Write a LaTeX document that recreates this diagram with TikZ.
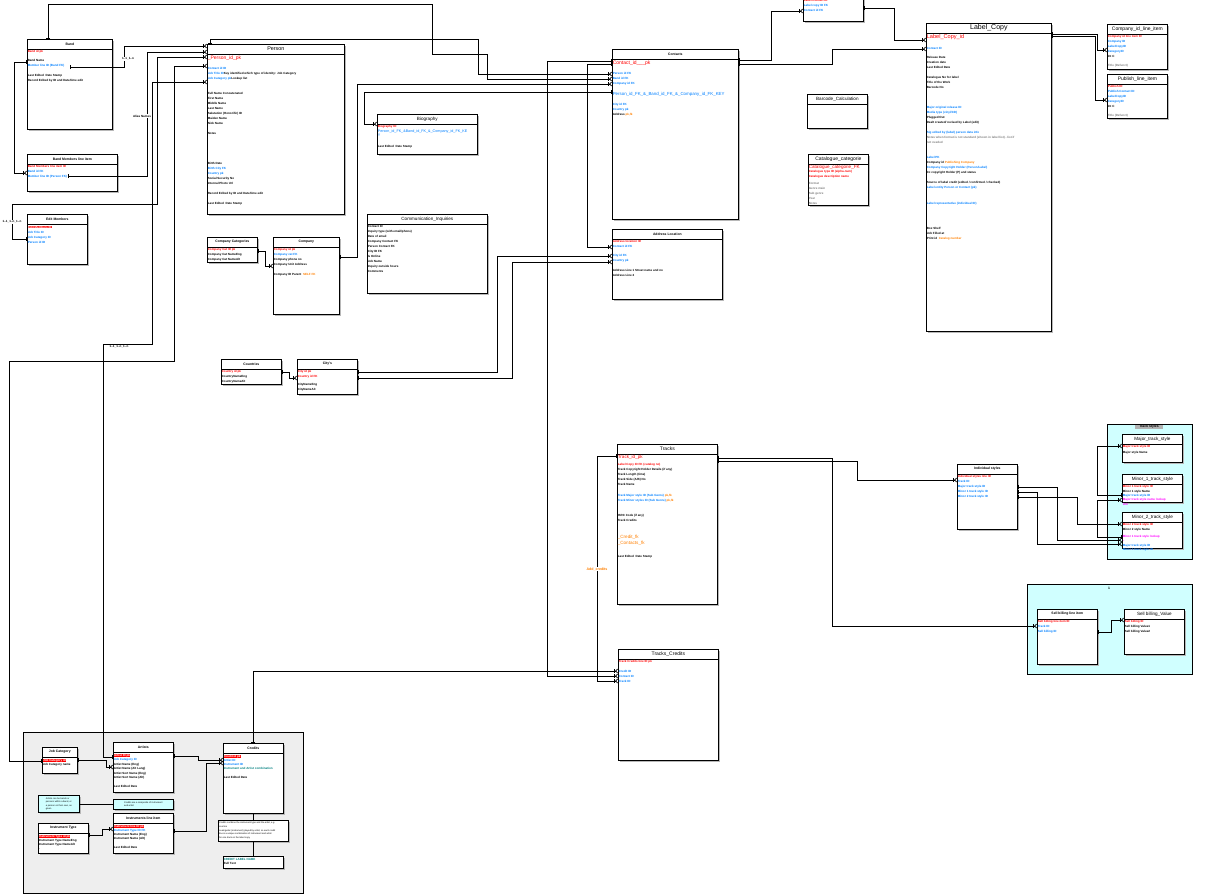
\documentclass[tikz,border=0pt]{standalone}
\usepackage{fontspec}
\setmainfont{Liberation Sans}
\usetikzlibrary{arrows.meta,shadows}

\definecolor{pkred}{RGB}{255,0,0}
\definecolor{fkblue}{RGB}{0,128,255}
\definecolor{ornge}{RGB}{255,128,0}
\definecolor{gryt}{RGB}{128,128,128}
\definecolor{mgnt}{RGB}{255,0,255}
\definecolor{teelt}{RGB}{0,128,128}
\definecolor{grpcyan}{RGB}{208,255,255}
\definecolor{grpgrey}{RGB}{238,238,238}

\newcommand{\pkf}[1]{\textcolor{pkred}{#1}}
\newcommand{\fkf}[1]{\textcolor{fkblue}{#1}}
\newcommand{\ogf}[1]{\textcolor{ornge}{#1}}
\newcommand{\grf}[1]{\textcolor{gryt}{#1}}
\newcommand{\mgf}[1]{\textcolor{mgnt}{#1}}
\newcommand{\tlf}[1]{\textcolor{teelt}{#1}}
\newcommand{\pkbar}[1]{{\setlength{\fboxsep}{0.3pt}\colorbox{pkred}{\textcolor{white}{#1}}}}
\newcommand{\bigrow}{\fontsize{5}{5}\mdseries\selectfont}
\newcommand{\tsmall}{\fontsize{3.4}{4}\bfseries\selectfont}

% one table: name, x, y, width, height, title, rows
\newcommand{\ertable}[7]{%
	\node[tbl, minimum width=#4pt, minimum height=#5pt] (#1)at(#2,#3) {};
	\draw[line width=0.7pt] ([yshift=-10pt]#1.north west) -- ([yshift=-10pt]#1.north east);
	\node[ttl] (#1-title)at([yshift=-5pt]#1.north) {#6};
	\node[rows] (#1-rows)at([shift={(0.6pt,-11.4pt)}]#1.north west) {#7};
}

\begin{document}
\begin{tikzpicture}[x=1pt, y=-1pt,
		tbl/.style={draw, line width=0.7pt, fill=white, anchor=north west, inner sep=0pt,
			drop shadow={shadow xshift=1.6pt, shadow yshift=-1.6pt, fill=black!28, opacity=1}},
		ttl/.style={font=\fontsize{4.6}{5}\selectfont, inner sep=0pt},
		rows/.style={anchor=north west, inner sep=0pt, align=left, font=\fontsize{3}{5}\bfseries\selectfont},
		rel/.style={line width=0.7pt, {Bar[width=4pt]}-{Bar[width=4pt]Straight Barb[reversed,length=2pt,width=4pt]}},
		plain/.style={line width=0.7pt},
		lbl/.style={font=\fontsize{3}{4}\bfseries\selectfont, fill=white, inner sep=0.5pt},
		grp/.style={draw, line width=0.7pt, anchor=north west, inner sep=0pt}]
	\useasboundingbox (0,0) rectangle (1220,894);

	% groups
	\node[grp, fill=grpgrey, minimum width=280pt, minimum height=161pt] (grpcred)at(23,732) {};
	\node[grp, fill=grpcyan, minimum width=85pt, minimum height=135pt] (grpstyle)at(1107,424) {};
	\node[grp, fill=grpcyan, minimum width=165pt, minimum height=90pt] (grpsell)at(1027,584) {};
	\node[fill=black!30, font=\tsmall, inner sep=0.5pt, anchor=north, minimum width=28pt] (grpstyle-lbl)at(1149,424.5) {Track styles};
	\node[font=\tsmall, inner sep=0pt] (grpsell-lbl)at(1109,588) {1};

	% tables
	\ertable{band}{27}{39}{85}{90}{\tsmall Band}{\pkf{Band id pk}\\[4pt] Band Name\\ \fkf{Member line ID (Band FK)}\\[5pt] Last Edited \ Date Stamp\\ Record Edited by ID and Date/time edit}
	\ertable{bandml}{27}{154}{90}{37}{\tsmall Band Members line item}{\pkf{Band Members line item ID}\\ \fkf{Band id FK}\\ \fkf{Member line ID (Person FK)}}
	\ertable{editmem}{27}{214}{60}{50}{\tsmall Edit Members}{\pkbar{Edit Members ID}\\ \fkf{Job Title ID}\\ \fkf{Job Category ID}\\ \fkf{Person id ID}}
	\ertable{person}{207}{44}{137}{170}{\fontsize{5.4}{6}\selectfont Person}{{\bigrow\pkf{\_Person\_id\_pk}}\\[5pt] \fkf{Contact id ID}\\ \fkf{Job Title ID}Key identified which type of identity: Job Category\\ \fkf{Job Category pk}Lookup list\\[10pt] Full Name Concatenated\\ First Name\\ Middle Name\\ Last Name\\ Salutation (Honorific) ID\\ Maiden Name\\ Nick Name\\[5pt] Notes\\[25pt] Birth Date\\ \fkf{Birth City FK}\\ \fkf{Country pk}\\ Social Security No\\ Internal Photo Url\\[5pt] Record Edited by ID and Date/time edit\\[5pt] Last Edited \ Date Stamp}
	\ertable{compcat}{207}{237}{50}{25}{\tsmall Company Categories}{\pkf{Company Cat ID pk}\\ Company Cat NameEng\\ Company Cat NameAlt}
	\ertable{company}{273}{237}{66}{77}{\tsmall Company}{\pkf{Company id pk}\\ \fkf{Company cat FK}\\ Company phone no\\ Company Unit Address\\[5pt] Company ID Parent \ \ogf{SELF FK}}
	\ertable{consum}{367}{214}{120}{79}{\fontsize{4.6}{5}\selectfont Communication\_Inquiries}{Contact ID\\ Inquiry type (with email/phone)\\ Date of email\\ Company Contact FK\\ Person Contact FK\\ City ID FK\\ Is Online\\ Job Name\\ Inquiry outside hours\\ Comments}
	\ertable{countries}{221}{359}{60}{25}{\tsmall Countries}{\pkf{Country id pk}\\ CountryNameEng\\ CountryNameAlt}
	\ertable{city}{297}{359}{60}{35}{\tsmall City's}{\pkf{City id pk}\\ \pkf{Country id FK}\\[3pt] CityNameEng\\ CityNameAlt}
	\ertable{bio}{377}{114}{100}{40}{Biography}{\pkf{Biography ID}\\ {\fontsize{3.7}{5}\mdseries\selectfont\fkf{Person\_id\_FK\_\&Band\_id\_FK\_\&\_Company\_id\_FK\_KE}}\\[-1pt] {\fontsize{3.7}{5}\mdseries\selectfont\fkf{Y}}\\[6pt] Last Edited \ Date Stamp}
	\ertable{contacts}{612}{49}{126}{170}{\tsmall Contacts}{{\bigrow\pkf{Contact\_id\_\_\_pk}}\\[5.5pt] \fkf{Person id FK}\\ \fkf{Band id FK}\\ \fkf{Company id FK}\\[6pt] {\fontsize{4.4}{5}\mdseries\selectfont\fkf{Person\_id\_FK\_\&\_Band\_id\_FK\_\&\_Company\_id\_FK\_KEY}}\\[4.5pt] \fkf{City id FK}\\ \fkf{Country pk}\\ Address \ogf{pk,fk}}
	\ertable{address}{612}{229}{110}{70}{\tsmall Address Location}{\pkf{Address location ID}\\ \fkf{Contact id FK}\\[4pt] \fkf{City id FK}\\ \fkf{Country pk}\\[5pt] Address Line 1 Street name and no\\ Address Line 2}
	\ertable{barcode}{807}{94}{60}{34}{Barcode\_Calculation}{}
	\ertable{catcat}{808}{154}{60}{51}{\fontsize{5}{6}\selectfont Catalogue\_categorie}{{\fontsize{4.6}{5}\mdseries\selectfont\pkf{Catalogue\_categorie\_FK}}\\[-1.5pt] \pkf{Catalogue type ID (alpha-num)}\\ \pkf{Catalogue description name}\\[2pt] \grf{Format}\\ \grf{Genre main}\\ \grf{Sub genre}\\ \grf{Year}\\ \grf{Notes}}
	\ertable{label}{926}{23}{125}{308}{\fontsize{7}{8}\selectfont Label\_Copy}{{\fontsize{5.6}{6}\mdseries\selectfont\pkf{Label\_Copy\_id}}\\[6pt] \fkf{Contact ID}\\[4pt] Release Date\\ Creation date\\ Last Edited Date\\[5pt] Catalogue No for label\\ Title of the Work\\ Barcode No\\[15pt] \fkf{Major original release ID}\\ \fkf{Media type (vinyl/CD)}\\ Plugged Out\\ Dealt created/ revised by Label (edit)\\[5pt] \fkf{Sig edited by (label) person data info}\\ \grf{Notes when format is not standard (shown in label list) - list if}\\ \grf{not needed}\\[10pt] \fkf{Label PK}\\ Company id \ogf{Publishing Company}\\ \fkf{Company Copyright Holder (Person/Label)}\\ Cc copyright Holder (P) and status\\[5pt] Source of label credit (edited / confirmed / checked)\\ \fkf{Label entity Person or Contact (pk)}\\[11pt] \fkf{Label representative (individual ID)}\\[20pt] Box Shelf\\ Job Filled at\\ Print id \ \ogf{Catalog number}}
	\ertable{compline}{1107}{24}{60}{45}{\fontsize{5}{6}\selectfont Company\_id\_line\_item}{\pkf{Company id line item ID}\\ \fkf{Company ID}\\ \fkf{LabelCopyID}\\ \fkf{CategoryID}\\ Int C\\[4pt] \grf{Title (Defunct)}}
	\ertable{publine}{1107}{74}{60}{44}{\fontsize{5}{6}\selectfont Publish\_line\_item}{\pkf{Publish ID}\\ \fkf{Publish Contact ID}\\ \fkf{LabelCopyID}\\ \fkf{CategoryID}\\ Int C\\[4pt] \grf{Title (Defunct)}}
	\ertable{tracks}{617}{444}{100}{160}{\fontsize{5}{6}\selectfont Tracks}{{\fontsize{4.6}{5}\mdseries\selectfont\pkf{Track\_id\_pk}}\\[2pt] \pkf{Label Copy ID FK (catalog no)}\\ Track Copyright Holder Details (if any)\\ Track Length (time)\\ Track Side (A/B) No\\ Track Name\\[6pt] \fkf{Track Major style ID (Sub Genre)} \ogf{pk,fk}\\ \fkf{Track Minor styles ID (Sub Genre)} \ogf{pk,fk}\\[10pt] ISRC Code (if any)\\ Track Credits\\[12pt] {\fontsize{4.6}{5}\mdseries\selectfont\ogf{\_Credit\_fk}}\\[1pt] {\fontsize{4.6}{5}\mdseries\selectfont\ogf{\_Contacts\_fk}}\\[8pt] Last Edited \ Date Stamp}
	\ertable{trcred}{618}{649}{100}{111}{\fontsize{5}{6}\selectfont Tracks\_Credits}{\pkf{Track Credits line ID pk}\\[5pt] \fkf{Credit ID}\\ \fkf{Contact ID}\\ \fkf{Track ID}}
	\ertable{styles}{957}{464}{60}{65}{\tsmall Individual styles}{\pkf{Individual styles line ID}\\ \fkf{Track ID}\\ \fkf{Major track style ID}\\ \fkf{Minor 1 track style ID}\\ \fkf{Minor 2 track style ID}}
	\ertable{major}{1122}{434}{60}{28}{Major\_track\_style}{\pkf{Major track style ID}\\[1pt] Major style Name}
	\ertable{minor1}{1122}{474}{60}{28}{Minor\_1\_track\_style}{\pkf{Minor 1 track style ID}\\[-0.6pt] Minor 1 style Name\\[-0.6pt] \fkf{Major track style ID}\\[-0.6pt] \mgf{Major track style name lookup}\\[-0.6pt] \mgf{link}}
	\ertable{minor2}{1122}{512}{60}{36}{Minor\_2\_track\_style}{\pkf{Minor 2 track style ID}\\ Minor 2 style Name\\[2pt] \mgf{Minor 1 track style lookup}\\[-1.5pt] \mgf{..}\\[0pt] \fkf{Major track style ID}\\[-1pt] \fkf{Minor 1 track style ID}}
	\ertable{sellitem}{1037}{609}{60}{55}{\tsmall Sell billing line item}{\pkf{Sell billing line item ID}\\ \fkf{Track ID}\\ \fkf{Sell billing ID}}
	\ertable{sellval}{1124}{609}{60}{45}{\fontsize{4.6}{5}\selectfont Sell billing\_Value}{\pkf{Sell billing ID}\\ Sell billing Value1\\ Sell billing Value2}
	% credits group
	\ertable{catg}{42}{747}{35}{26}{\tsmall Job Category}{\pkbar{Job Category id}\\[-1pt] Job Category name}
	\ertable{artists}{113}{742}{60}{50}{\tsmall Artists}{\pkbar{Artist ID pk}\\[-0.5pt] \fkf{Job Category ID}\\[-0.5pt] Artist Name (Eng)\\[-0.5pt] Artist Name (Alt Lang)\\[-0.5pt] Artist Sort Name (Eng)\\[-0.5pt] Artist Sort Name (Alt)\\[4pt] Last Edited Date}
	\ertable{credits}{223}{743}{60}{70}{\tsmall Credits}{\pkbar{Credit id pk}\\[-1pt] \fkf{Artist ID}\\[-1pt] \fkf{Instrument ID}\\[-1pt] \tlf{Instrument and Artist combination}\\[4pt] Last Edited Date}
	\ertable{instr}{38}{823}{50}{30}{\tsmall Instrument Type}{\pkbar{Instrument Type id pk}\\[-0.5pt] Instrument Type NameEng\\[-1pt] Instrument Type NameAlt\\[-1pt] .}
	\ertable{instline}{113}{813}{60}{40}{\tsmall Instruments line item}{\pkbar{Instrument line ID pk}\\[-0.5pt] \fkf{Instrument Type ID FK}\\[-1pt] Instrument Name (Eng)\\[-1pt] Instrument Name (Alt)\\[4pt] Last Edited Date}
	\node[tbl, fill=grpcyan, minimum width=41pt, minimum height=17pt] (note1)at(38,795) {};
	\node[rows, font=\fontsize{2.3}{3.3}\selectfont, anchor=center] (note1-text)at(note1.center) {Artists can be bands or\\ persons within a band, or\\ a person on their own, as\\ given};
	\node[tbl, fill=grpcyan, minimum width=60pt, minimum height=10pt] (note2)at(113,799) {};
	\node[rows, font=\fontsize{2.3}{3.3}\selectfont, anchor=center] (note2-text)at(note2.center) {Credits are a composite of instrument\\ and artist};
	\node[tbl, minimum width=70pt, minimum height=21pt] (note3)at(218,820) {};
	\node[rows, font=\fontsize{2.3}{3.3}\selectfont, anchor=north west] (note3-text)at([shift={(1pt,-2pt)}]note3.north west) {Credits combine the instrument type and the artist, e.g.\\ one line\\[1pt] Lead guitar (instrument) played by artist, so each credit\\ line is a unique combination of instrument and artist\\ for one track on the label copy};
	\node[tbl, minimum width=60pt, minimum height=12pt] (box37)at(223,856) {};
	\node[rows, anchor=north west] (box37-rows)at([shift={(0.6pt,-2pt)}]box37.north west) {\tlf{CREDIT LABEL NAME}\\[-1pt] Full Text};
	% box cut by the top edge
	\node[tbl, minimum width=60pt, minimum height=51pt] (topbox)at(803,-30) {};
	\node[rows] (topbox-rows)at([shift={(0.6pt,-29pt)}]topbox.north west) {\pkf{Label Contact ID}\\ \fkf{Label copy ID FK}\\ \fkf{Contact id FK}};

	% connectors
	\draw[rel] ([xshift=21pt]band.north west) |- (432,4) |- (487,54) |- ([yshift=-30pt]contacts.north west);
	\draw[rel] ([xshift=3pt]person.north west) |- (478,39) |- ([yshift=-25pt]contacts.north west);
	\draw[rel] ([shift={(43pt,-28pt)}]band.north west) -| (124,46) -- ([yshift=-2pt]person.north west);
	\draw[rel] ([shift={(41pt,-22pt)}]bandml.north west) -| (147,52) -- ([yshift=-8pt]person.north west);
	\draw[rel] ([yshift=-23pt]band.north west) -| (14,173) -- ([yshift=-19pt]bandml.north west);
	\draw[rel] ([yshift=-25pt]editmem.north west) -| (12,204) -| (157,57) -- ([yshift=-13pt]person.north west);
	\draw[rel] ([yshift=-14pt]catg.north west) -| (9,361) -| (174,66) -- ([yshift=-22pt]person.north west);
	\draw[rel] ([yshift=-15pt]artists.north west) -| (103,344) -| (152,82) -- ([yshift=-38pt]person.north west);
	\draw[rel] ([yshift=-13pt]catg.north east) -| (106,767) -- ([yshift=-25pt]artists.north west);
	\draw[rel] ([yshift=-12pt]contacts.north west) -| (547,676) -- ([yshift=-27pt]trcred.north west);
	\draw[rel] ([yshift=-15pt]contacts.north west) -| (587,247) -- ([yshift=-18pt]address.north west);
	\draw[rel] ([yshift=-12pt]tracks.north west) -| (597,681) -- ([yshift=-32pt]trcred.north west);
	\draw[rel] ([xshift=30pt]credits.north west) |- ([yshift=-22pt]trcred.north west);
	\draw[rel] ([yshift=-20pt]company.north east) -| (357,84) -- ([yshift=-35pt]contacts.north west);
	\draw[rel] ([yshift=-43pt]contacts.north west) -| (364,124) -- ([yshift=-10pt]bio.north west);
	\draw[rel] ([yshift=-13pt]city.north east) -| (497,256) -- ([yshift=-27pt]address.north west);
	\draw[rel] ([yshift=-19pt]city.north east) -| (512,262) -- ([yshift=-33pt]address.north west);
	\draw[rel] ([yshift=-14pt]compcat.north east) -| (265,266) -- ([yshift=-29pt]company.north west);
	\draw[rel] ([yshift=-13pt]countries.north east) -| (289,378) -- ([yshift=-19pt]city.north west);
	\draw[rel] ([yshift=-11pt]contacts.north east) -| (771,11) -- ([yshift=-41pt]topbox.north west);
	\draw[rel] ([yshift=-15pt]contacts.north east) -| (832,49) -- ([yshift=-26pt]label.north west);
	\draw[rel] ([yshift=-38pt]topbox.north east) -| (894,40) -- ([yshift=-17pt]label.north west);
	\draw[rel] ([yshift=-11pt]label.north east) -| (1097,50) -- ([yshift=-26pt]compline.north west);
	\draw[rel] ([yshift=-13pt]label.north east) -| (1095,100) -- ([yshift=-26pt]publine.north west);
	\draw[rel] ([yshift=-14pt]tracks.north east) -| (832,626) -- ([yshift=-17pt]sellitem.north west);
	\draw[rel] ([yshift=-17pt]tracks.north east) -| (857,480) -- ([yshift=-16pt]styles.north west);
	\draw[rel] ([yshift=-23pt]styles.north east) -| (1057,540) -- ([yshift=-28pt]minor2.north west);
	\draw[rel] ([yshift=-28pt]styles.north east) -| (1037,544) -- ([yshift=-32pt]minor2.north west);
	\draw[rel] ([yshift=-33pt]styles.north east) -| (1077,524) -- ([yshift=-12pt]minor2.north west);
	\draw[rel] ([yshift=-21pt]minor1.north west) -| (1097,446) -- ([yshift=-12pt]major.north west);
	\draw[rel] ([yshift=-25pt]minor2.north west) -| (1097,500) -- ([yshift=-26pt]minor1.north west);
	\draw[rel] ([yshift=-23pt]sellitem.north east) -| (1111,620) -- ([yshift=-11pt]sellval.north west);
	\draw[rel] ([yshift=-14pt]artists.north east) -| (198,760) -- ([yshift=-17pt]credits.north west);
	\draw[rel] ([yshift=-18pt]instline.north east) -| (206,763) -- ([yshift=-20pt]credits.north west);
	\draw[rel] ([yshift=-12pt]instr.north east) -| (102,829) -- ([yshift=-16pt]instline.north west);
	\draw[plain] (note1.east) -- (note1.east -| note2.west);
	\draw[plain] ([xshift=30pt]credits.south west) -- ([xshift=35pt]note3.north west);
	\draw[plain] ([xshift=35pt]note3.south west) -- ([xshift=30pt]box37.north west);

	% connector labels
	\node[lbl] (lab-band)at(128,59) {1..1\_1..n};
	\node[lbl] (lab-alias)at(142,116) {Alias Names};
	\node[lbl] (lab-edit)at(12,222) {1..1\_1..n\_1..n};
	\node[lbl] (lab-art)at(119,347) {1..1\_1..n\_1..n};
	\node[lbl, text=ornge, font=\fontsize{3.6}{4}\bfseries\selectfont] (lab-credits)at(597,569) {Add\_credits};
\end{tikzpicture}
\end{document}
